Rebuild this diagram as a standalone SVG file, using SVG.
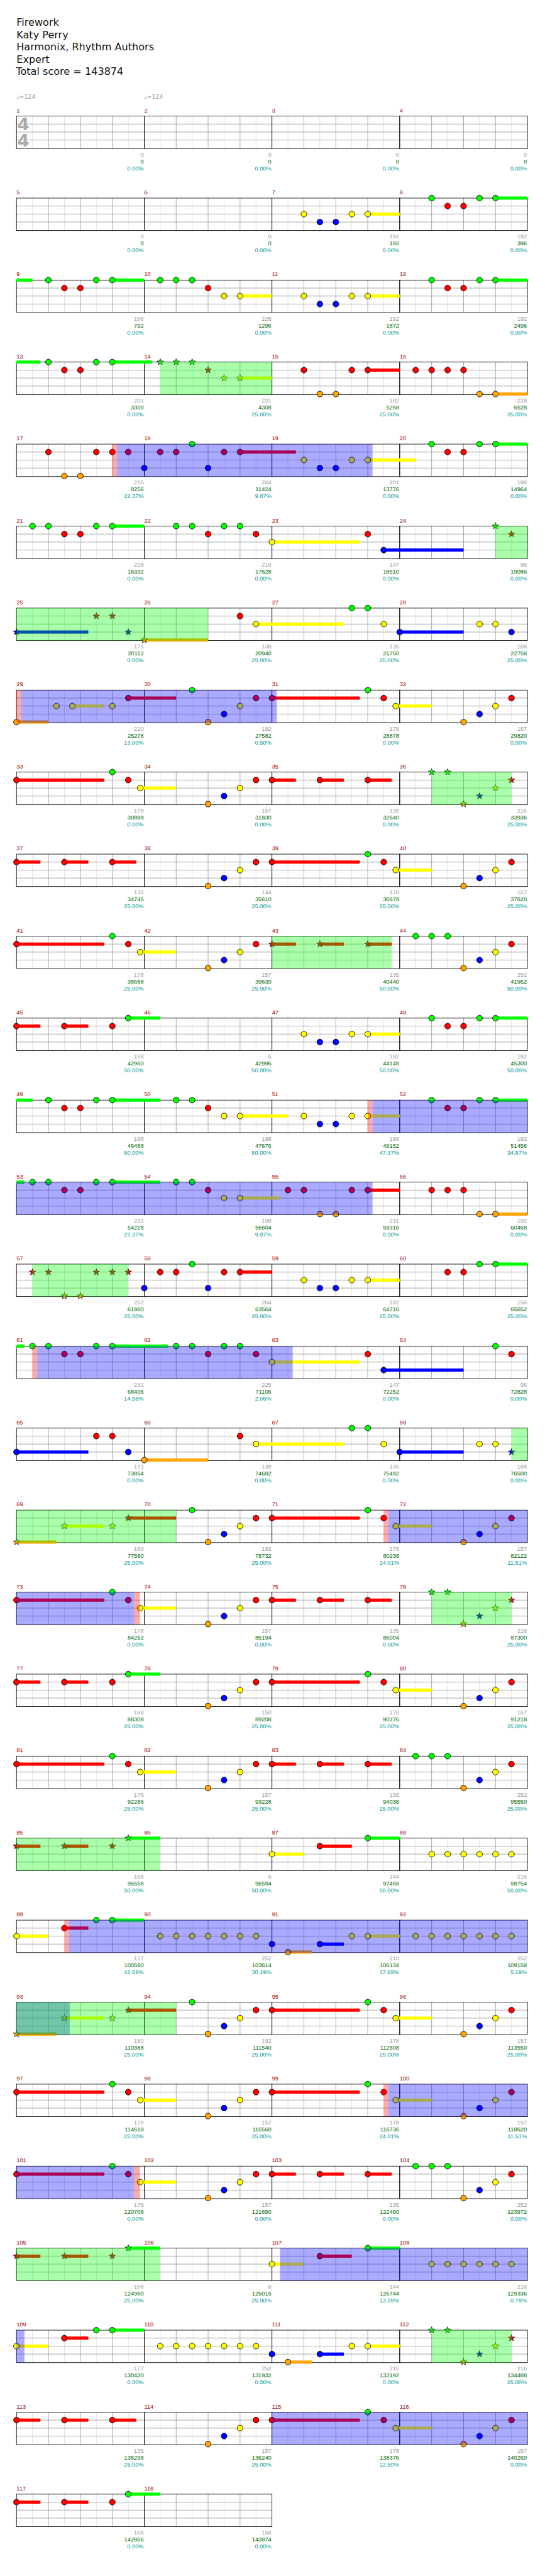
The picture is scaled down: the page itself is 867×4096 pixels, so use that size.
<svg xmlns="http://www.w3.org/2000/svg" width="867" height="4096" viewBox="0 0 867 4096">
<style>
.hd{font-family:"DejaVu Sans",sans-serif;font-size:19px;fill:#111}
.tp{font-family:"DejaVu Sans",sans-serif;font-size:11px;fill:#999}
.ts{font-family:"DejaVu Sans",sans-serif;font-weight:bold;font-size:32px;fill:#aaa;text-anchor:middle}
.mn{font-family:"Liberation Sans",Arial,sans-serif;font-size:11px;fill:#900}
.l1,.l2,.l3{font-family:"Liberation Sans",Arial,sans-serif;font-size:11px;text-anchor:end}
.l1{fill:#999}.l2{fill:#060}.l3{fill:#099}
.sG{fill:#0f0}.sR{fill:#f00}.sY{fill:#ff0}.sB{fill:#00f}.sO{fill:#ffa500}
.ov1{fill:#0f0;fill-opacity:.333}.ov2{fill:#00f;fill-opacity:.333}.ov3{fill:#f00;fill-opacity:.333}
</style>
<defs>
<g id="grid">
<path d="M30,0V61M90,0V61M150,0V61M210,0V61" stroke="#ddd" fill="none"/>
<path d="M0,15H240M0,30H240M0,45H240M60,0V61M120,0V61M180,0V61" stroke="#999" fill="none"/>
<rect width="240" height="61" fill="none" stroke="#000"/>
</g>
<circle id="nG" r="5.5" fill="#0f0" stroke="#000"/>
<circle id="nR" cy="15" r="5.5" fill="#f00" stroke="#000"/>
<circle id="nY" cy="30" r="5.5" fill="#ff0" stroke="#000"/>
<circle id="nB" cy="45" r="5.5" fill="#00f" stroke="#000"/>
<circle id="nO" cy="60" r="5.5" fill="#ffa500" stroke="#000"/>
<path id="st" d="M0,-6.5L1.53,-2.1L6.18,-2.01L2.47,0.8L3.82,5.26L0,2.6L-3.82,5.26L-2.47,0.8L-6.18,-2.01L-1.53,-2.1Z" stroke="#000" stroke-width=".8"/>
<use id="tG" href="#st" fill="#0f0"/>
<use id="tR" href="#st" fill="#f00" y="15"/>
<use id="tY" href="#st" fill="#ff0" y="30"/>
<use id="tB" href="#st" fill="#00f" y="45"/>
<use id="tO" href="#st" fill="#ffa500" y="60"/>
<g id="pRL"><rect class="sR" x="0" y="12" width="165" height="6"/><rect class="sY" x="232.5" y="27" width="67.5" height="6"/><use href="#nR" x="0"/><use href="#nG" x="180"/><use href="#nR" x="210"/><use href="#nY" x="232.5"/></g>
<g id="pOBYR"><use href="#nO" x="120"/><use href="#nB" x="150"/><use href="#nY" x="180"/><use href="#nR" x="210"/></g>
<g id="pRS"><rect class="sR" x="0" y="12" width="45" height="6"/><rect class="sR" x="90" y="12" width="45" height="6"/><rect class="sR" x="180" y="12" width="45" height="6"/><use href="#nR" x="0"/><use href="#nR" x="90"/><use href="#nR" x="180"/></g>
</defs>
<rect width="867" height="4096" fill="#fff"/>
<g transform="scale(0.84668)">
<g id="header">
<text class="hd" x="31" y="49">Firework</text>
<text class="hd" x="31" y="72">Katy Perry</text>
<text class="hd" x="31" y="95">Harmonix, Rhythm Authors</text>
<text class="hd" x="31" y="118">Expert</text>
<text class="hd" x="30" y="141">Total score = 143874</text>
<text class="tp" x="31" y="186">♩=124</text>
<text class="tp" x="271" y="186">♩=124</text>
</g>
<g id="grids">
<use href="#grid" x="31" y="218"/><use href="#grid" x="271" y="218"/><use href="#grid" x="511" y="218"/><use href="#grid" x="751" y="218"/>
<use href="#grid" x="31" y="372"/><use href="#grid" x="271" y="372"/><use href="#grid" x="511" y="372"/><use href="#grid" x="751" y="372"/>
<use href="#grid" x="31" y="526"/><use href="#grid" x="271" y="526"/><use href="#grid" x="511" y="526"/><use href="#grid" x="751" y="526"/>
<use href="#grid" x="31" y="680"/><use href="#grid" x="271" y="680"/><use href="#grid" x="511" y="680"/><use href="#grid" x="751" y="680"/>
<use href="#grid" x="31" y="834"/><use href="#grid" x="271" y="834"/><use href="#grid" x="511" y="834"/><use href="#grid" x="751" y="834"/>
<use href="#grid" x="31" y="988"/><use href="#grid" x="271" y="988"/><use href="#grid" x="511" y="988"/><use href="#grid" x="751" y="988"/>
<use href="#grid" x="31" y="1142"/><use href="#grid" x="271" y="1142"/><use href="#grid" x="511" y="1142"/><use href="#grid" x="751" y="1142"/>
<use href="#grid" x="31" y="1296"/><use href="#grid" x="271" y="1296"/><use href="#grid" x="511" y="1296"/><use href="#grid" x="751" y="1296"/>
<use href="#grid" x="31" y="1450"/><use href="#grid" x="271" y="1450"/><use href="#grid" x="511" y="1450"/><use href="#grid" x="751" y="1450"/>
<use href="#grid" x="31" y="1604"/><use href="#grid" x="271" y="1604"/><use href="#grid" x="511" y="1604"/><use href="#grid" x="751" y="1604"/>
<use href="#grid" x="31" y="1758"/><use href="#grid" x="271" y="1758"/><use href="#grid" x="511" y="1758"/><use href="#grid" x="751" y="1758"/>
<use href="#grid" x="31" y="1912"/><use href="#grid" x="271" y="1912"/><use href="#grid" x="511" y="1912"/><use href="#grid" x="751" y="1912"/>
<use href="#grid" x="31" y="2066"/><use href="#grid" x="271" y="2066"/><use href="#grid" x="511" y="2066"/><use href="#grid" x="751" y="2066"/>
<use href="#grid" x="31" y="2220"/><use href="#grid" x="271" y="2220"/><use href="#grid" x="511" y="2220"/><use href="#grid" x="751" y="2220"/>
<use href="#grid" x="31" y="2374"/><use href="#grid" x="271" y="2374"/><use href="#grid" x="511" y="2374"/><use href="#grid" x="751" y="2374"/>
<use href="#grid" x="31" y="2528"/><use href="#grid" x="271" y="2528"/><use href="#grid" x="511" y="2528"/><use href="#grid" x="751" y="2528"/>
<use href="#grid" x="31" y="2682"/><use href="#grid" x="271" y="2682"/><use href="#grid" x="511" y="2682"/><use href="#grid" x="751" y="2682"/>
<use href="#grid" x="31" y="2836"/><use href="#grid" x="271" y="2836"/><use href="#grid" x="511" y="2836"/><use href="#grid" x="751" y="2836"/>
<use href="#grid" x="31" y="2990"/><use href="#grid" x="271" y="2990"/><use href="#grid" x="511" y="2990"/><use href="#grid" x="751" y="2990"/>
<use href="#grid" x="31" y="3144"/><use href="#grid" x="271" y="3144"/><use href="#grid" x="511" y="3144"/><use href="#grid" x="751" y="3144"/>
<use href="#grid" x="31" y="3298"/><use href="#grid" x="271" y="3298"/><use href="#grid" x="511" y="3298"/><use href="#grid" x="751" y="3298"/>
<use href="#grid" x="31" y="3452"/><use href="#grid" x="271" y="3452"/><use href="#grid" x="511" y="3452"/><use href="#grid" x="751" y="3452"/>
<use href="#grid" x="31" y="3606"/><use href="#grid" x="271" y="3606"/><use href="#grid" x="511" y="3606"/><use href="#grid" x="751" y="3606"/>
<use href="#grid" x="31" y="3760"/><use href="#grid" x="271" y="3760"/><use href="#grid" x="511" y="3760"/><use href="#grid" x="751" y="3760"/>
<use href="#grid" x="31" y="3914"/><use href="#grid" x="271" y="3914"/><use href="#grid" x="511" y="3914"/><use href="#grid" x="751" y="3914"/>
<use href="#grid" x="31" y="4068"/><use href="#grid" x="271" y="4068"/><use href="#grid" x="511" y="4068"/><use href="#grid" x="751" y="4068"/>
<use href="#grid" x="31" y="4222"/><use href="#grid" x="271" y="4222"/><use href="#grid" x="511" y="4222"/><use href="#grid" x="751" y="4222"/>
<use href="#grid" x="31" y="4376"/><use href="#grid" x="271" y="4376"/><use href="#grid" x="511" y="4376"/><use href="#grid" x="751" y="4376"/>
<use href="#grid" x="31" y="4530"/><use href="#grid" x="271" y="4530"/><use href="#grid" x="511" y="4530"/><use href="#grid" x="751" y="4530"/>
<use href="#grid" x="31" y="4684"/><use href="#grid" x="271" y="4684"/>
</g>
<g id="measures">
<g id="m1" transform="translate(31,218)"><text class="mn" y="-7">1</text><text class="ts" x="13" y="27">4</text><text class="ts" x="13" y="57">4</text><text class="l1" x="239" y="76">0</text><text class="l2" x="239" y="89">0</text><text class="l3" x="239" y="102">0.00%</text></g>
<g id="m2" transform="translate(271,218)"><text class="mn" y="-7">2</text><text class="l1" x="239" y="76">0</text><text class="l2" x="239" y="89">0</text><text class="l3" x="239" y="102">0.00%</text></g>
<g id="m3" transform="translate(511,218)"><text class="mn" y="-7">3</text><text class="l1" x="239" y="76">0</text><text class="l2" x="239" y="89">0</text><text class="l3" x="239" y="102">0.00%</text></g>
<g id="m4" transform="translate(751,218)"><text class="mn" y="-7">4</text><text class="l1" x="239" y="76">0</text><text class="l2" x="239" y="89">0</text><text class="l3" x="239" y="102">0.00%</text></g>
<g id="m5" transform="translate(31,372)"><text class="mn" y="-7">5</text><text class="l1" x="239" y="76">0</text><text class="l2" x="239" y="89">0</text><text class="l3" x="239" y="102">0.00%</text></g>
<g id="m6" transform="translate(271,372)"><text class="mn" y="-7">6</text><text class="l1" x="239" y="76">0</text><text class="l2" x="239" y="89">0</text><text class="l3" x="239" y="102">0.00%</text></g>
<g id="m7" transform="translate(511,372)"><text class="mn" y="-7">7</text><rect class="sY" x="180" y="27" width="60" height="6"/><use href="#nY" x="60"/><use href="#nB" x="90"/><use href="#nB" x="120"/><use href="#nY" x="150"/><use href="#nY" x="180"/><text class="l1" x="239" y="76">192</text><text class="l2" x="239" y="89">192</text><text class="l3" x="239" y="102">0.00%</text></g>
<g id="m8" transform="translate(751,372)"><text class="mn" y="-7">8</text><rect class="sG" x="180" y="-3" width="60" height="6"/><use href="#nG" x="60"/><use href="#nR" x="90"/><use href="#nR" x="120"/><use href="#nG" x="150"/><use href="#nG" x="180"/><text class="l1" x="239" y="76">192</text><text class="l2" x="239" y="89">396</text><text class="l3" x="239" y="102">0.00%</text></g>
<g id="m9" transform="translate(31,526)"><text class="mn" y="-7">9</text><rect class="sG" x="0" y="-3" width="30" height="6"/><rect class="sG" x="180" y="-3" width="60" height="6"/><use href="#nG" x="60"/><use href="#nR" x="90"/><use href="#nR" x="120"/><use href="#nG" x="150"/><use href="#nG" x="180"/><text class="l1" x="239" y="76">198</text><text class="l2" x="239" y="89">792</text><text class="l3" x="239" y="102">0.00%</text></g>
<g id="m10" transform="translate(271,526)"><text class="mn" y="-7">10</text><rect class="sY" x="180" y="27" width="60" height="6"/><use href="#nG" x="30"/><use href="#nG" x="60"/><use href="#nG" x="90"/><use href="#nR" x="120"/><use href="#nY" x="150"/><use href="#nY" x="180"/><text class="l1" x="239" y="76">228</text><text class="l2" x="239" y="89">1296</text><text class="l3" x="239" y="102">0.00%</text></g>
<g id="m11" transform="translate(511,526)"><text class="mn" y="-7">11</text><rect class="sY" x="180" y="27" width="60" height="6"/><use href="#nY" x="60"/><use href="#nB" x="90"/><use href="#nB" x="120"/><use href="#nY" x="150"/><use href="#nY" x="180"/><text class="l1" x="239" y="76">192</text><text class="l2" x="239" y="89">1872</text><text class="l3" x="239" y="102">0.00%</text></g>
<g id="m12" transform="translate(751,526)"><text class="mn" y="-7">12</text><rect class="sG" x="180" y="-3" width="60" height="6"/><use href="#nG" x="60"/><use href="#nR" x="90"/><use href="#nR" x="120"/><use href="#nG" x="150"/><use href="#nG" x="180"/><text class="l1" x="239" y="76">192</text><text class="l2" x="239" y="89">2496</text><text class="l3" x="239" y="102">0.00%</text></g>
<g id="m13" transform="translate(31,680)"><text class="mn" y="-7">13</text><rect class="sG" x="0" y="-3" width="45" height="6"/><rect class="sG" x="180" y="-3" width="75" height="6"/><use href="#nG" x="60"/><use href="#nR" x="90"/><use href="#nR" x="120"/><use href="#nG" x="150"/><use href="#nG" x="180"/><text class="l1" x="239" y="76">201</text><text class="l2" x="239" y="89">3300</text><text class="l3" x="239" y="102">0.00%</text></g>
<g id="m14" transform="translate(271,680)"><text class="mn" y="-7">14</text><rect class="sY" x="180" y="27" width="60" height="6"/><use href="#tG" x="30"/><use href="#tG" x="60"/><use href="#tG" x="90"/><use href="#tR" x="120"/><use href="#tY" x="150"/><use href="#tY" x="180"/><text class="l1" x="239" y="76">231</text><text class="l2" x="239" y="89">4308</text><text class="l3" x="239" y="102">25.00%</text></g>
<g id="m15" transform="translate(511,680)"><text class="mn" y="-7">15</text><rect class="sR" x="180" y="12" width="60" height="6"/><use href="#nR" x="60"/><use href="#nO" x="90"/><use href="#nO" x="120"/><use href="#nR" x="150"/><use href="#nR" x="180"/><text class="l1" x="239" y="76">192</text><text class="l2" x="239" y="89">5268</text><text class="l3" x="239" y="102">25.00%</text></g>
<g id="m16" transform="translate(751,680)"><text class="mn" y="-7">16</text><rect class="sO" x="180" y="57" width="60" height="6"/><use href="#nR" x="30"/><use href="#nR" x="60"/><use href="#nR" x="90"/><use href="#nR" x="120"/><use href="#nO" x="150"/><use href="#nO" x="180"/><text class="l1" x="239" y="76">228</text><text class="l2" x="239" y="89">6528</text><text class="l3" x="239" y="102">25.00%</text></g>
<g id="m17" transform="translate(31,834)"><text class="mn" y="-7">17</text><use href="#nR" x="60"/><use href="#nO" x="90"/><use href="#nO" x="120"/><use href="#nR" x="150"/><use href="#nR" x="180"/><use href="#nR" x="210"/><text class="l1" x="239" y="76">216</text><text class="l2" x="239" y="89">8256</text><text class="l3" x="239" y="102">22.37%</text></g>
<g id="m18" transform="translate(271,834)"><text class="mn" y="-7">18</text><rect class="sR" x="180" y="12" width="105" height="6"/><use href="#nB" x="0"/><use href="#nR" x="30"/><use href="#nR" x="60"/><use href="#nG" x="90"/><use href="#nB" x="120"/><use href="#nR" x="150"/><use href="#nR" x="180"/><text class="l1" x="239" y="76">264</text><text class="l2" x="239" y="89">11424</text><text class="l3" x="239" y="102">9.87%</text></g>
<g id="m19" transform="translate(511,834)"><text class="mn" y="-7">19</text><rect class="sY" x="180" y="27" width="90" height="6"/><use href="#nY" x="60"/><use href="#nB" x="90"/><use href="#nB" x="120"/><use href="#nY" x="150"/><use href="#nY" x="180"/><text class="l1" x="239" y="76">201</text><text class="l2" x="239" y="89">13776</text><text class="l3" x="239" y="102">0.00%</text></g>
<g id="m20" transform="translate(751,834)"><text class="mn" y="-7">20</text><rect class="sG" x="180" y="-3" width="60" height="6"/><use href="#nG" x="60"/><use href="#nR" x="90"/><use href="#nR" x="120"/><use href="#nG" x="150"/><use href="#nG" x="180"/><text class="l1" x="239" y="76">198</text><text class="l2" x="239" y="89">14964</text><text class="l3" x="239" y="102">0.00%</text></g>
<g id="m21" transform="translate(31,988)"><text class="mn" y="-7">21</text><rect class="sG" x="180" y="-3" width="60" height="6"/><use href="#nG" x="30"/><use href="#nG" x="60"/><use href="#nR" x="90"/><use href="#nR" x="120"/><use href="#nG" x="150"/><use href="#nG" x="180"/><text class="l1" x="239" y="76">228</text><text class="l2" x="239" y="89">16332</text><text class="l3" x="239" y="102">0.00%</text></g>
<g id="m22" transform="translate(271,988)"><text class="mn" y="-7">22</text><use href="#nG" x="60"/><use href="#nG" x="90"/><use href="#nR" x="120"/><use href="#nG" x="150"/><use href="#nG" x="180"/><use href="#nR" x="210"/><text class="l1" x="239" y="76">216</text><text class="l2" x="239" y="89">17628</text><text class="l3" x="239" y="102">0.00%</text></g>
<g id="m23" transform="translate(511,988)"><text class="mn" y="-7">23</text><rect class="sY" x="0" y="27" width="165" height="6"/><rect class="sB" x="210" y="42" width="150" height="6"/><use href="#nY" x="0"/><use href="#nR" x="180"/><use href="#nB" x="210"/><text class="l1" x="239" y="76">147</text><text class="l2" x="239" y="89">18510</text><text class="l3" x="239" y="102">0.00%</text></g>
<g id="m24" transform="translate(751,988)"><text class="mn" y="-7">24</text><use href="#tG" x="180"/><use href="#tR" x="210"/><text class="l1" x="239" y="76">96</text><text class="l2" x="239" y="89">19086</text><text class="l3" x="239" y="102">0.00%</text></g>
<g id="m25" transform="translate(31,1142)"><text class="mn" y="-7">25</text><rect class="sB" x="0" y="42" width="135" height="6"/><use href="#tB" x="0"/><use href="#tR" x="150"/><use href="#tR" x="180"/><use href="#tB" x="210"/><text class="l1" x="239" y="76">171</text><text class="l2" x="239" y="89">20112</text><text class="l3" x="239" y="102">0.00%</text></g>
<g id="m26" transform="translate(271,1142)"><text class="mn" y="-7">26</text><rect class="sO" x="0" y="57" width="120" height="6"/><rect class="sY" x="210" y="27" width="165" height="6"/><use href="#tO" x="0"/><use href="#nR" x="180"/><use href="#nY" x="210"/><text class="l1" x="239" y="76">138</text><text class="l2" x="239" y="89">20940</text><text class="l3" x="239" y="102">25.00%</text></g>
<g id="m27" transform="translate(511,1142)"><text class="mn" y="-7">27</text><use href="#nG" x="150"/><use href="#nG" x="180"/><use href="#nY" x="210"/><text class="l1" x="239" y="76">135</text><text class="l2" x="239" y="89">21750</text><text class="l3" x="239" y="102">25.00%</text></g>
<g id="m28" transform="translate(751,1142)"><text class="mn" y="-7">28</text><rect class="sB" x="0" y="42" width="120" height="6"/><use href="#nB" x="0"/><use href="#nY" x="150"/><use href="#nY" x="180"/><use href="#nB" x="210"/><text class="l1" x="239" y="76">168</text><text class="l2" x="239" y="89">22758</text><text class="l3" x="239" y="102">25.00%</text></g>
<g id="m29" transform="translate(31,1296)"><text class="mn" y="-7">29</text><rect class="sO" x="0" y="57" width="60" height="6"/><rect class="sY" x="105" y="27" width="60" height="6"/><rect class="sR" x="210" y="12" width="90" height="6"/><use href="#nO" x="0"/><use href="#nY" x="75"/><use href="#nY" x="105"/><use href="#nY" x="180"/><use href="#nR" x="210"/><text class="l1" x="239" y="76">210</text><text class="l2" x="239" y="89">25278</text><text class="l3" x="239" y="102">13.00%</text></g>
<g id="m30" transform="translate(271,1296)"><text class="mn" y="-7">30</text><use href="#nG" x="90"/><use href="#nO" x="120"/><use href="#nB" x="150"/><use href="#nY" x="180"/><use href="#nR" x="210"/><text class="l1" x="239" y="76">192</text><text class="l2" x="239" y="89">27582</text><text class="l3" x="239" y="102">0.50%</text></g>
<g id="m31" transform="translate(511,1296)"><text class="mn" y="-7">31</text><use href="#pRL"/><text class="l1" x="239" y="76">178</text><text class="l2" x="239" y="89">28878</text><text class="l3" x="239" y="102">0.00%</text></g>
<g id="m32" transform="translate(751,1296)"><text class="mn" y="-7">32</text><use href="#pOBYR"/><text class="l1" x="239" y="76">157</text><text class="l2" x="239" y="89">29820</text><text class="l3" x="239" y="102">0.00%</text></g>
<g id="m33" transform="translate(31,1450)"><text class="mn" y="-7">33</text><use href="#pRL"/><text class="l1" x="239" y="76">178</text><text class="l2" x="239" y="89">30888</text><text class="l3" x="239" y="102">0.00%</text></g>
<g id="m34" transform="translate(271,1450)"><text class="mn" y="-7">34</text><use href="#pOBYR"/><text class="l1" x="239" y="76">157</text><text class="l2" x="239" y="89">31830</text><text class="l3" x="239" y="102">0.00%</text></g>
<g id="m35" transform="translate(511,1450)"><text class="mn" y="-7">35</text><use href="#pRS"/><text class="l1" x="239" y="76">135</text><text class="l2" x="239" y="89">32640</text><text class="l3" x="239" y="102">0.00%</text></g>
<g id="m36" transform="translate(751,1450)"><text class="mn" y="-7">36</text><use href="#tG" x="60"/><use href="#tG" x="90"/><use href="#tO" x="120"/><use href="#tB" x="150"/><use href="#tY" x="180"/><use href="#tR" x="210"/><text class="l1" x="239" y="76">216</text><text class="l2" x="239" y="89">33936</text><text class="l3" x="239" y="102">25.00%</text></g>
<g id="m37" transform="translate(31,1604)"><text class="mn" y="-7">37</text><use href="#pRS"/><text class="l1" x="239" y="76">135</text><text class="l2" x="239" y="89">34746</text><text class="l3" x="239" y="102">25.00%</text></g>
<g id="m38" transform="translate(271,1604)"><text class="mn" y="-7">38</text><use href="#pOBYR"/><text class="l1" x="239" y="76">144</text><text class="l2" x="239" y="89">35610</text><text class="l3" x="239" y="102">25.00%</text></g>
<g id="m39" transform="translate(511,1604)"><text class="mn" y="-7">39</text><use href="#pRL"/><text class="l1" x="239" y="76">178</text><text class="l2" x="239" y="89">36678</text><text class="l3" x="239" y="102">25.00%</text></g>
<g id="m40" transform="translate(751,1604)"><text class="mn" y="-7">40</text><use href="#pOBYR"/><text class="l1" x="239" y="76">157</text><text class="l2" x="239" y="89">37620</text><text class="l3" x="239" y="102">25.00%</text></g>
<g id="m41" transform="translate(31,1758)"><text class="mn" y="-7">41</text><use href="#pRL"/><text class="l1" x="239" y="76">178</text><text class="l2" x="239" y="89">38688</text><text class="l3" x="239" y="102">25.00%</text></g>
<g id="m42" transform="translate(271,1758)"><text class="mn" y="-7">42</text><use href="#pOBYR"/><text class="l1" x="239" y="76">157</text><text class="l2" x="239" y="89">39630</text><text class="l3" x="239" y="102">25.00%</text></g>
<g id="m43" transform="translate(511,1758)"><text class="mn" y="-7">43</text><rect class="sR" x="0" y="12" width="45" height="6"/><rect class="sR" x="90" y="12" width="45" height="6"/><rect class="sR" x="180" y="12" width="45" height="6"/><use href="#tR" x="0"/><use href="#tR" x="90"/><use href="#tR" x="180"/><text class="l1" x="239" y="76">135</text><text class="l2" x="239" y="89">40440</text><text class="l3" x="239" y="102">50.00%</text></g>
<g id="m44" transform="translate(751,1758)"><text class="mn" y="-7">44</text><use href="#nG" x="30"/><use href="#nG" x="60"/><use href="#nG" x="90"/><use href="#pOBYR"/><text class="l1" x="239" y="76">252</text><text class="l2" x="239" y="89">41952</text><text class="l3" x="239" y="102">50.00%</text></g>
<g id="m45" transform="translate(31,1912)"><text class="mn" y="-7">45</text><rect class="sR" x="0" y="12" width="45" height="6"/><rect class="sR" x="90" y="12" width="45" height="6"/><rect class="sG" x="210" y="-3" width="60" height="6"/><use href="#nR" x="0"/><use href="#nR" x="90"/><use href="#nR" x="180"/><use href="#nG" x="210"/><text class="l1" x="239" y="76">168</text><text class="l2" x="239" y="89">42960</text><text class="l3" x="239" y="102">50.00%</text></g>
<g id="m46" transform="translate(271,1912)"><text class="mn" y="-7">46</text><text class="l1" x="239" y="76">6</text><text class="l2" x="239" y="89">42996</text><text class="l3" x="239" y="102">50.00%</text></g>
<g id="m47" transform="translate(511,1912)"><text class="mn" y="-7">47</text><rect class="sY" x="180" y="27" width="60" height="6"/><use href="#nY" x="60"/><use href="#nB" x="90"/><use href="#nB" x="120"/><use href="#nY" x="150"/><use href="#nY" x="180"/><text class="l1" x="239" y="76">192</text><text class="l2" x="239" y="89">44148</text><text class="l3" x="239" y="102">50.00%</text></g>
<g id="m48" transform="translate(751,1912)"><text class="mn" y="-7">48</text><rect class="sG" x="180" y="-3" width="60" height="6"/><use href="#nG" x="60"/><use href="#nR" x="90"/><use href="#nR" x="120"/><use href="#nG" x="150"/><use href="#nG" x="180"/><text class="l1" x="239" y="76">192</text><text class="l2" x="239" y="89">45300</text><text class="l3" x="239" y="102">50.00%</text></g>
<g id="m49" transform="translate(31,2066)"><text class="mn" y="-7">49</text><rect class="sG" x="0" y="-3" width="30" height="6"/><rect class="sG" x="180" y="-3" width="90" height="6"/><use href="#nG" x="60"/><use href="#nR" x="90"/><use href="#nR" x="120"/><use href="#nG" x="150"/><use href="#nG" x="180"/><text class="l1" x="239" y="76">198</text><text class="l2" x="239" y="89">46488</text><text class="l3" x="239" y="102">50.00%</text></g>
<g id="m50" transform="translate(271,2066)"><text class="mn" y="-7">50</text><rect class="sY" x="180" y="27" width="90" height="6"/><use href="#nG" x="60"/><use href="#nG" x="90"/><use href="#nR" x="120"/><use href="#nY" x="150"/><use href="#nY" x="180"/><text class="l1" x="239" y="76">198</text><text class="l2" x="239" y="89">47676</text><text class="l3" x="239" y="102">50.00%</text></g>
<g id="m51" transform="translate(511,2066)"><text class="mn" y="-7">51</text><rect class="sY" x="180" y="27" width="60" height="6"/><use href="#nY" x="60"/><use href="#nB" x="90"/><use href="#nB" x="120"/><use href="#nY" x="150"/><use href="#nY" x="180"/><text class="l1" x="239" y="76">198</text><text class="l2" x="239" y="89">49152</text><text class="l3" x="239" y="102">47.37%</text></g>
<g id="m52" transform="translate(751,2066)"><text class="mn" y="-7">52</text><rect class="sG" x="180" y="-3" width="60" height="6"/><use href="#nG" x="60"/><use href="#nR" x="90"/><use href="#nR" x="120"/><use href="#nG" x="150"/><use href="#nG" x="180"/><text class="l1" x="239" y="76">192</text><text class="l2" x="239" y="89">51456</text><text class="l3" x="239" y="102">34.87%</text></g>
<g id="m53" transform="translate(31,2220)"><text class="mn" y="-7">53</text><rect class="sG" x="0" y="-3" width="15" height="6"/><rect class="sG" x="180" y="-3" width="90" height="6"/><use href="#nG" x="30"/><use href="#nG" x="60"/><use href="#nR" x="90"/><use href="#nR" x="120"/><use href="#nG" x="150"/><use href="#nG" x="180"/><text class="l1" x="239" y="76">231</text><text class="l2" x="239" y="89">54228</text><text class="l3" x="239" y="102">22.37%</text></g>
<g id="m54" transform="translate(271,2220)"><text class="mn" y="-7">54</text><rect class="sY" x="180" y="27" width="75" height="6"/><use href="#nG" x="60"/><use href="#nG" x="90"/><use href="#nR" x="120"/><use href="#nY" x="150"/><use href="#nY" x="180"/><text class="l1" x="239" y="76">198</text><text class="l2" x="239" y="89">56604</text><text class="l3" x="239" y="102">9.87%</text></g>
<g id="m55" transform="translate(511,2220)"><text class="mn" y="-7">55</text><rect class="sR" x="180" y="12" width="60" height="6"/><use href="#nR" x="30"/><use href="#nR" x="60"/><use href="#nO" x="90"/><use href="#nO" x="120"/><use href="#nR" x="150"/><use href="#nR" x="180"/><text class="l1" x="239" y="76">231</text><text class="l2" x="239" y="89">59316</text><text class="l3" x="239" y="102">0.00%</text></g>
<g id="m56" transform="translate(751,2220)"><text class="mn" y="-7">56</text><rect class="sO" x="180" y="57" width="60" height="6"/><use href="#nR" x="60"/><use href="#nR" x="90"/><use href="#nR" x="120"/><use href="#nO" x="150"/><use href="#nO" x="180"/><text class="l1" x="239" y="76">192</text><text class="l2" x="239" y="89">60468</text><text class="l3" x="239" y="102">0.00%</text></g>
<g id="m57" transform="translate(31,2374)"><text class="mn" y="-7">57</text><use href="#tR" x="30"/><use href="#tR" x="60"/><use href="#tO" x="90"/><use href="#tO" x="120"/><use href="#tR" x="150"/><use href="#tR" x="180"/><use href="#tR" x="210"/><text class="l1" x="239" y="76">252</text><text class="l2" x="239" y="89">61980</text><text class="l3" x="239" y="102">25.00%</text></g>
<g id="m58" transform="translate(271,2374)"><text class="mn" y="-7">58</text><rect class="sR" x="180" y="12" width="60" height="6"/><use href="#nB" x="0"/><use href="#nR" x="30"/><use href="#nR" x="60"/><use href="#nG" x="90"/><use href="#nB" x="120"/><use href="#nR" x="150"/><use href="#nR" x="180"/><text class="l1" x="239" y="76">264</text><text class="l2" x="239" y="89">63564</text><text class="l3" x="239" y="102">25.00%</text></g>
<g id="m59" transform="translate(511,2374)"><text class="mn" y="-7">59</text><rect class="sY" x="180" y="27" width="60" height="6"/><use href="#nY" x="60"/><use href="#nB" x="90"/><use href="#nB" x="120"/><use href="#nY" x="150"/><use href="#nY" x="180"/><text class="l1" x="239" y="76">192</text><text class="l2" x="239" y="89">64716</text><text class="l3" x="239" y="102">25.00%</text></g>
<g id="m60" transform="translate(751,2374)"><text class="mn" y="-7">60</text><rect class="sG" x="180" y="-3" width="60" height="6"/><use href="#nR" x="90"/><use href="#nR" x="120"/><use href="#nG" x="150"/><use href="#nG" x="180"/><text class="l1" x="239" y="76">156</text><text class="l2" x="239" y="89">65652</text><text class="l3" x="239" y="102">25.00%</text></g>
<g id="m61" transform="translate(31,2528)"><text class="mn" y="-7">61</text><rect class="sG" x="0" y="-3" width="15" height="6"/><rect class="sG" x="180" y="-3" width="105" height="6"/><use href="#nG" x="30"/><use href="#nG" x="60"/><use href="#nR" x="90"/><use href="#nR" x="120"/><use href="#nG" x="150"/><use href="#nG" x="180"/><text class="l1" x="239" y="76">231</text><text class="l2" x="239" y="89">68406</text><text class="l3" x="239" y="102">14.56%</text></g>
<g id="m62" transform="translate(271,2528)"><text class="mn" y="-7">62</text><use href="#nG" x="60"/><use href="#nG" x="90"/><use href="#nR" x="120"/><use href="#nG" x="150"/><use href="#nG" x="180"/><use href="#nR" x="210"/><text class="l1" x="239" y="76">225</text><text class="l2" x="239" y="89">71106</text><text class="l3" x="239" y="102">2.06%</text></g>
<g id="m63" transform="translate(511,2528)"><text class="mn" y="-7">63</text><rect class="sY" x="0" y="27" width="165" height="6"/><rect class="sB" x="210" y="42" width="150" height="6"/><use href="#nY" x="0"/><use href="#nR" x="180"/><use href="#nB" x="210"/><text class="l1" x="239" y="76">147</text><text class="l2" x="239" y="89">72252</text><text class="l3" x="239" y="102">0.00%</text></g>
<g id="m64" transform="translate(751,2528)"><text class="mn" y="-7">64</text><use href="#nG" x="180"/><use href="#nR" x="210"/><text class="l1" x="239" y="76">96</text><text class="l2" x="239" y="89">72828</text><text class="l3" x="239" y="102">0.00%</text></g>
<g id="m65" transform="translate(31,2682)"><text class="mn" y="-7">65</text><rect class="sB" x="0" y="42" width="135" height="6"/><use href="#nB" x="0"/><use href="#nR" x="150"/><use href="#nR" x="180"/><use href="#nB" x="210"/><text class="l1" x="239" y="76">171</text><text class="l2" x="239" y="89">73854</text><text class="l3" x="239" y="102">0.00%</text></g>
<g id="m66" transform="translate(271,2682)"><text class="mn" y="-7">66</text><rect class="sO" x="0" y="57" width="120" height="6"/><rect class="sY" x="210" y="27" width="165" height="6"/><use href="#nO" x="0"/><use href="#nR" x="180"/><use href="#nY" x="210"/><text class="l1" x="239" y="76">138</text><text class="l2" x="239" y="89">74682</text><text class="l3" x="239" y="102">0.00%</text></g>
<g id="m67" transform="translate(511,2682)"><text class="mn" y="-7">67</text><use href="#nG" x="150"/><use href="#nG" x="180"/><use href="#nY" x="210"/><text class="l1" x="239" y="76">135</text><text class="l2" x="239" y="89">75492</text><text class="l3" x="239" y="102">0.00%</text></g>
<g id="m68" transform="translate(751,2682)"><text class="mn" y="-7">68</text><rect class="sB" x="0" y="42" width="120" height="6"/><use href="#nB" x="0"/><use href="#nY" x="150"/><use href="#nY" x="180"/><use href="#tB" x="210"/><text class="l1" x="239" y="76">168</text><text class="l2" x="239" y="89">76500</text><text class="l3" x="239" y="102">0.00%</text></g>
<g id="m69" transform="translate(31,2836)"><text class="mn" y="-7">69</text><rect class="sO" x="0" y="57" width="75" height="6"/><rect class="sY" x="90" y="27" width="75" height="6"/><rect class="sR" x="210" y="12" width="90" height="6"/><use href="#tO" x="0"/><use href="#tY" x="90"/><use href="#tY" x="180"/><use href="#tR" x="210"/><text class="l1" x="239" y="76">180</text><text class="l2" x="239" y="89">77580</text><text class="l3" x="239" y="102">25.00%</text></g>
<g id="m70" transform="translate(271,2836)"><text class="mn" y="-7">70</text><use href="#nG" x="90"/><use href="#pOBYR"/><text class="l1" x="239" y="76">192</text><text class="l2" x="239" y="89">78732</text><text class="l3" x="239" y="102">25.00%</text></g>
<g id="m71" transform="translate(511,2836)"><text class="mn" y="-7">71</text><use href="#pRL"/><text class="l1" x="239" y="76">178</text><text class="l2" x="239" y="89">80238</text><text class="l3" x="239" y="102">24.01%</text></g>
<g id="m72" transform="translate(751,2836)"><text class="mn" y="-7">72</text><use href="#pOBYR"/><text class="l1" x="239" y="76">157</text><text class="l2" x="239" y="89">82122</text><text class="l3" x="239" y="102">11.51%</text></g>
<g id="m73" transform="translate(31,2990)"><text class="mn" y="-7">73</text><use href="#pRL"/><text class="l1" x="239" y="76">178</text><text class="l2" x="239" y="89">84252</text><text class="l3" x="239" y="102">0.00%</text></g>
<g id="m74" transform="translate(271,2990)"><text class="mn" y="-7">74</text><use href="#pOBYR"/><text class="l1" x="239" y="76">157</text><text class="l2" x="239" y="89">85194</text><text class="l3" x="239" y="102">0.00%</text></g>
<g id="m75" transform="translate(511,2990)"><text class="mn" y="-7">75</text><use href="#pRS"/><text class="l1" x="239" y="76">135</text><text class="l2" x="239" y="89">86004</text><text class="l3" x="239" y="102">0.00%</text></g>
<g id="m76" transform="translate(751,2990)"><text class="mn" y="-7">76</text><use href="#tG" x="60"/><use href="#tG" x="90"/><use href="#tO" x="120"/><use href="#tB" x="150"/><use href="#tY" x="180"/><use href="#tR" x="210"/><text class="l1" x="239" y="76">216</text><text class="l2" x="239" y="89">87300</text><text class="l3" x="239" y="102">25.00%</text></g>
<g id="m77" transform="translate(31,3144)"><text class="mn" y="-7">77</text><rect class="sR" x="0" y="12" width="45" height="6"/><rect class="sR" x="90" y="12" width="45" height="6"/><rect class="sG" x="210" y="-3" width="60" height="6"/><use href="#nR" x="0"/><use href="#nR" x="90"/><use href="#nR" x="180"/><use href="#nG" x="210"/><text class="l1" x="239" y="76">168</text><text class="l2" x="239" y="89">88308</text><text class="l3" x="239" y="102">25.00%</text></g>
<g id="m78" transform="translate(271,3144)"><text class="mn" y="-7">78</text><use href="#pOBYR"/><text class="l1" x="239" y="76">150</text><text class="l2" x="239" y="89">89208</text><text class="l3" x="239" y="102">25.00%</text></g>
<g id="m79" transform="translate(511,3144)"><text class="mn" y="-7">79</text><use href="#pRL"/><text class="l1" x="239" y="76">178</text><text class="l2" x="239" y="89">90276</text><text class="l3" x="239" y="102">25.00%</text></g>
<g id="m80" transform="translate(751,3144)"><text class="mn" y="-7">80</text><use href="#pOBYR"/><text class="l1" x="239" y="76">157</text><text class="l2" x="239" y="89">91218</text><text class="l3" x="239" y="102">25.00%</text></g>
<g id="m81" transform="translate(31,3298)"><text class="mn" y="-7">81</text><use href="#pRL"/><text class="l1" x="239" y="76">178</text><text class="l2" x="239" y="89">92286</text><text class="l3" x="239" y="102">25.00%</text></g>
<g id="m82" transform="translate(271,3298)"><text class="mn" y="-7">82</text><use href="#pOBYR"/><text class="l1" x="239" y="76">157</text><text class="l2" x="239" y="89">93228</text><text class="l3" x="239" y="102">25.00%</text></g>
<g id="m83" transform="translate(511,3298)"><text class="mn" y="-7">83</text><use href="#pRS"/><text class="l1" x="239" y="76">135</text><text class="l2" x="239" y="89">94038</text><text class="l3" x="239" y="102">25.00%</text></g>
<g id="m84" transform="translate(751,3298)"><text class="mn" y="-7">84</text><use href="#nG" x="30"/><use href="#nG" x="60"/><use href="#nG" x="90"/><use href="#pOBYR"/><text class="l1" x="239" y="76">252</text><text class="l2" x="239" y="89">95550</text><text class="l3" x="239" y="102">25.00%</text></g>
<g id="m85" transform="translate(31,3452)"><text class="mn" y="-7">85</text><rect class="sR" x="0" y="12" width="45" height="6"/><rect class="sR" x="90" y="12" width="45" height="6"/><rect class="sG" x="210" y="-3" width="60" height="6"/><use href="#tR" x="0"/><use href="#tR" x="90"/><use href="#tR" x="180"/><use href="#tG" x="210"/><text class="l1" x="239" y="76">168</text><text class="l2" x="239" y="89">96558</text><text class="l3" x="239" y="102">50.00%</text></g>
<g id="m86" transform="translate(271,3452)"><text class="mn" y="-7">86</text><text class="l1" x="239" y="76">6</text><text class="l2" x="239" y="89">96594</text><text class="l3" x="239" y="102">50.00%</text></g>
<g id="m87" transform="translate(511,3452)"><text class="mn" y="-7">87</text><rect class="sY" x="0" y="27" width="60" height="6"/><rect class="sR" x="90" y="12" width="60" height="6"/><rect class="sG" x="180" y="-3" width="60" height="6"/><use href="#nY" x="0"/><use href="#nR" x="90"/><use href="#nG" x="180"/><text class="l1" x="239" y="76">144</text><text class="l2" x="239" y="89">97458</text><text class="l3" x="239" y="102">50.00%</text></g>
<g id="m88" transform="translate(751,3452)"><text class="mn" y="-7">88</text><use href="#nY" x="60"/><use href="#nY" x="90"/><use href="#nY" x="120"/><use href="#nY" x="150"/><use href="#nY" x="180"/><use href="#nY" x="210"/><text class="l1" x="239" y="76">216</text><text class="l2" x="239" y="89">98754</text><text class="l3" x="239" y="102">50.00%</text></g>
<g id="m89" transform="translate(31,3606)"><text class="mn" y="-7">89</text><rect class="sY" x="0" y="27" width="60" height="6"/><rect class="sR" x="90" y="12" width="45" height="6"/><rect class="sG" x="180" y="-3" width="60" height="6"/><use href="#nY" x="0"/><use href="#nR" x="90"/><use href="#nG" x="150"/><use href="#nG" x="180"/><text class="l1" x="239" y="76">177</text><text class="l2" x="239" y="89">100590</text><text class="l3" x="239" y="102">42.69%</text></g>
<g id="m90" transform="translate(271,3606)"><text class="mn" y="-7">90</text><use href="#nY" x="30"/><use href="#nY" x="60"/><use href="#nY" x="90"/><use href="#nY" x="120"/><use href="#nY" x="150"/><use href="#nY" x="180"/><use href="#nY" x="210"/><text class="l1" x="239" y="76">252</text><text class="l2" x="239" y="89">103614</text><text class="l3" x="239" y="102">30.19%</text></g>
<g id="m91" transform="translate(511,3606)"><text class="mn" y="-7">91</text><rect class="sO" x="30" y="57" width="45" height="6"/><rect class="sB" x="90" y="42" width="45" height="6"/><rect class="sY" x="180" y="27" width="60" height="6"/><use href="#nB" x="0"/><use href="#nO" x="30"/><use href="#nB" x="90"/><use href="#nY" x="150"/><use href="#nY" x="180"/><text class="l1" x="239" y="76">210</text><text class="l2" x="239" y="89">106134</text><text class="l3" x="239" y="102">17.69%</text></g>
<g id="m92" transform="translate(751,3606)"><text class="mn" y="-7">92</text><use href="#nY" x="30"/><use href="#nY" x="60"/><use href="#nY" x="90"/><use href="#nY" x="120"/><use href="#nY" x="150"/><use href="#nY" x="180"/><use href="#nY" x="210"/><text class="l1" x="239" y="76">252</text><text class="l2" x="239" y="89">109158</text><text class="l3" x="239" y="102">5.19%</text></g>
<g id="m93" transform="translate(31,3760)"><text class="mn" y="-7">93</text><rect class="sO" x="0" y="57" width="75" height="6"/><rect class="sY" x="90" y="27" width="75" height="6"/><rect class="sR" x="210" y="12" width="90" height="6"/><use href="#tO" x="0"/><use href="#tY" x="90"/><use href="#tY" x="180"/><use href="#tR" x="210"/><text class="l1" x="239" y="76">180</text><text class="l2" x="239" y="89">110388</text><text class="l3" x="239" y="102">25.00%</text></g>
<g id="m94" transform="translate(271,3760)"><text class="mn" y="-7">94</text><use href="#nG" x="90"/><use href="#pOBYR"/><text class="l1" x="239" y="76">192</text><text class="l2" x="239" y="89">111540</text><text class="l3" x="239" y="102">25.00%</text></g>
<g id="m95" transform="translate(511,3760)"><text class="mn" y="-7">95</text><use href="#pRL"/><text class="l1" x="239" y="76">178</text><text class="l2" x="239" y="89">112608</text><text class="l3" x="239" y="102">25.00%</text></g>
<g id="m96" transform="translate(751,3760)"><text class="mn" y="-7">96</text><use href="#pOBYR"/><text class="l1" x="239" y="76">157</text><text class="l2" x="239" y="89">113550</text><text class="l3" x="239" y="102">25.00%</text></g>
<g id="m97" transform="translate(31,3914)"><text class="mn" y="-7">97</text><use href="#pRL"/><text class="l1" x="239" y="76">178</text><text class="l2" x="239" y="89">114618</text><text class="l3" x="239" y="102">25.00%</text></g>
<g id="m98" transform="translate(271,3914)"><text class="mn" y="-7">98</text><use href="#pOBYR"/><text class="l1" x="239" y="76">157</text><text class="l2" x="239" y="89">115560</text><text class="l3" x="239" y="102">25.00%</text></g>
<g id="m99" transform="translate(511,3914)"><text class="mn" y="-7">99</text><use href="#pRL"/><text class="l1" x="239" y="76">178</text><text class="l2" x="239" y="89">116736</text><text class="l3" x="239" y="102">24.01%</text></g>
<g id="m100" transform="translate(751,3914)"><text class="mn" y="-7">100</text><use href="#pOBYR"/><text class="l1" x="239" y="76">157</text><text class="l2" x="239" y="89">118620</text><text class="l3" x="239" y="102">11.51%</text></g>
<g id="m101" transform="translate(31,4068)"><text class="mn" y="-7">101</text><use href="#pRL"/><text class="l1" x="239" y="76">178</text><text class="l2" x="239" y="89">120708</text><text class="l3" x="239" y="102">0.00%</text></g>
<g id="m102" transform="translate(271,4068)"><text class="mn" y="-7">102</text><use href="#pOBYR"/><text class="l1" x="239" y="76">157</text><text class="l2" x="239" y="89">121650</text><text class="l3" x="239" y="102">0.00%</text></g>
<g id="m103" transform="translate(511,4068)"><text class="mn" y="-7">103</text><use href="#pRS"/><text class="l1" x="239" y="76">135</text><text class="l2" x="239" y="89">122460</text><text class="l3" x="239" y="102">0.00%</text></g>
<g id="m104" transform="translate(751,4068)"><text class="mn" y="-7">104</text><use href="#nG" x="30"/><use href="#nG" x="60"/><use href="#nG" x="90"/><use href="#pOBYR"/><text class="l1" x="239" y="76">252</text><text class="l2" x="239" y="89">123972</text><text class="l3" x="239" y="102">0.00%</text></g>
<g id="m105" transform="translate(31,4222)"><text class="mn" y="-7">105</text><rect class="sR" x="0" y="12" width="45" height="6"/><rect class="sR" x="90" y="12" width="45" height="6"/><rect class="sG" x="210" y="-3" width="60" height="6"/><use href="#tR" x="0"/><use href="#tR" x="90"/><use href="#tR" x="180"/><use href="#tG" x="210"/><text class="l1" x="239" y="76">168</text><text class="l2" x="239" y="89">124980</text><text class="l3" x="239" y="102">25.00%</text></g>
<g id="m106" transform="translate(271,4222)"><text class="mn" y="-7">106</text><text class="l1" x="239" y="76">6</text><text class="l2" x="239" y="89">125016</text><text class="l3" x="239" y="102">25.00%</text></g>
<g id="m107" transform="translate(511,4222)"><text class="mn" y="-7">107</text><rect class="sY" x="0" y="27" width="60" height="6"/><rect class="sR" x="90" y="12" width="60" height="6"/><rect class="sG" x="180" y="-3" width="60" height="6"/><use href="#nY" x="0"/><use href="#nR" x="90"/><use href="#nG" x="180"/><text class="l1" x="239" y="76">144</text><text class="l2" x="239" y="89">126744</text><text class="l3" x="239" y="102">13.28%</text></g>
<g id="m108" transform="translate(751,4222)"><text class="mn" y="-7">108</text><use href="#nY" x="60"/><use href="#nY" x="90"/><use href="#nY" x="120"/><use href="#nY" x="150"/><use href="#nY" x="180"/><use href="#nY" x="210"/><text class="l1" x="239" y="76">216</text><text class="l2" x="239" y="89">129336</text><text class="l3" x="239" y="102">0.78%</text></g>
<g id="m109" transform="translate(31,4376)"><text class="mn" y="-7">109</text><rect class="sY" x="0" y="27" width="60" height="6"/><rect class="sR" x="90" y="12" width="45" height="6"/><rect class="sG" x="180" y="-3" width="60" height="6"/><use href="#nY" x="0"/><use href="#nR" x="90"/><use href="#nG" x="150"/><use href="#nG" x="180"/><text class="l1" x="239" y="76">177</text><text class="l2" x="239" y="89">130420</text><text class="l3" x="239" y="102">0.00%</text></g>
<g id="m110" transform="translate(271,4376)"><text class="mn" y="-7">110</text><use href="#nY" x="30"/><use href="#nY" x="60"/><use href="#nY" x="90"/><use href="#nY" x="120"/><use href="#nY" x="150"/><use href="#nY" x="180"/><use href="#nY" x="210"/><text class="l1" x="239" y="76">252</text><text class="l2" x="239" y="89">131932</text><text class="l3" x="239" y="102">0.00%</text></g>
<g id="m111" transform="translate(511,4376)"><text class="mn" y="-7">111</text><rect class="sO" x="30" y="57" width="45" height="6"/><rect class="sB" x="90" y="42" width="45" height="6"/><rect class="sY" x="180" y="27" width="60" height="6"/><use href="#nB" x="0"/><use href="#nO" x="30"/><use href="#nB" x="90"/><use href="#nY" x="150"/><use href="#nY" x="180"/><text class="l1" x="239" y="76">210</text><text class="l2" x="239" y="89">133192</text><text class="l3" x="239" y="102">0.00%</text></g>
<g id="m112" transform="translate(751,4376)"><text class="mn" y="-7">112</text><use href="#tG" x="60"/><use href="#tG" x="90"/><use href="#tO" x="120"/><use href="#tB" x="150"/><use href="#tY" x="180"/><use href="#tR" x="210"/><text class="l1" x="239" y="76">216</text><text class="l2" x="239" y="89">134488</text><text class="l3" x="239" y="102">25.00%</text></g>
<g id="m113" transform="translate(31,4530)"><text class="mn" y="-7">113</text><use href="#pRS"/><text class="l1" x="239" y="76">135</text><text class="l2" x="239" y="89">135298</text><text class="l3" x="239" y="102">25.00%</text></g>
<g id="m114" transform="translate(271,4530)"><text class="mn" y="-7">114</text><use href="#pOBYR"/><text class="l1" x="239" y="76">157</text><text class="l2" x="239" y="89">136240</text><text class="l3" x="239" y="102">25.00%</text></g>
<g id="m115" transform="translate(511,4530)"><text class="mn" y="-7">115</text><use href="#pRL"/><text class="l1" x="239" y="76">178</text><text class="l2" x="239" y="89">138376</text><text class="l3" x="239" y="102">12.50%</text></g>
<g id="m116" transform="translate(751,4530)"><text class="mn" y="-7">116</text><use href="#pOBYR"/><text class="l1" x="239" y="76">157</text><text class="l2" x="239" y="89">140260</text><text class="l3" x="239" y="102">0.00%</text></g>
<g id="m117" transform="translate(31,4684)"><text class="mn" y="-7">117</text><rect class="sR" x="0" y="12" width="45" height="6"/><rect class="sR" x="90" y="12" width="45" height="6"/><rect class="sG" x="210" y="-3" width="60" height="6"/><use href="#nR" x="0"/><use href="#nR" x="90"/><use href="#nR" x="180"/><use href="#nG" x="210"/><text class="l1" x="239" y="76">168</text><text class="l2" x="239" y="89">142866</text><text class="l3" x="239" y="102">0.00%</text></g>
<g id="m118" transform="translate(271,4684)"><text class="mn" y="-7">118</text><text class="l1" x="239" y="76">168</text><text class="l2" x="239" y="89">143874</text><text class="l3" x="239" y="102">0.00%</text></g>
</g>
<g id="overlays">
<rect class="ov1" x="301" y="680" width="210" height="61"/>
<rect class="ov3" x="211" y="834" width="9" height="61"/>
<rect class="ov2" x="220" y="834" width="480" height="61"/>
<rect class="ov1" x="931" y="988" width="60" height="61"/>
<rect class="ov1" x="31" y="1142" width="360" height="61"/>
<rect class="ov3" x="31" y="1296" width="9" height="61"/>
<rect class="ov2" x="40" y="1296" width="480" height="61"/>
<rect class="ov1" x="811" y="1450" width="150" height="61"/>
<rect class="ov1" x="511" y="1758" width="225" height="61"/>
<rect class="ov3" x="691" y="2066" width="9" height="61"/>
<rect class="ov2" x="700" y="2066" width="291" height="61"/>
<rect class="ov2" x="31" y="2220" width="669" height="61"/>
<rect class="ov1" x="61" y="2374" width="180" height="61"/>
<rect class="ov3" x="61" y="2528" width="9" height="61"/>
<rect class="ov2" x="70" y="2528" width="480" height="61"/>
<rect class="ov1" x="961" y="2682" width="30" height="61"/>
<rect class="ov1" x="31" y="2836" width="300" height="61"/>
<rect class="ov3" x="721" y="2836" width="9" height="61"/>
<rect class="ov2" x="730" y="2836" width="261" height="61"/>
<rect class="ov2" x="31" y="2990" width="221" height="61"/>
<rect class="ov3" x="252" y="2990" width="11" height="61"/>
<rect class="ov1" x="811" y="2990" width="150" height="61"/>
<rect class="ov1" x="31" y="3452" width="270" height="61"/>
<rect class="ov3" x="121" y="3606" width="9" height="61"/>
<rect class="ov2" x="130" y="3606" width="861" height="61"/>
<rect class="ov2" x="31" y="3760" width="100" height="61"/>
<rect class="ov1" x="31" y="3760" width="300" height="61"/>
<rect class="ov3" x="721" y="3914" width="9" height="61"/>
<rect class="ov2" x="730" y="3914" width="261" height="61"/>
<rect class="ov2" x="31" y="4068" width="221" height="61"/>
<rect class="ov3" x="252" y="4068" width="11" height="61"/>
<rect class="ov1" x="31" y="4222" width="270" height="61"/>
<rect class="ov2" x="526" y="4222" width="465" height="61"/>
<rect class="ov2" x="31" y="4376" width="15" height="61"/>
<rect class="ov1" x="811" y="4376" width="150" height="61"/>
<rect class="ov2" x="511" y="4530" width="480" height="61"/>
</g>
</g>
</svg>
